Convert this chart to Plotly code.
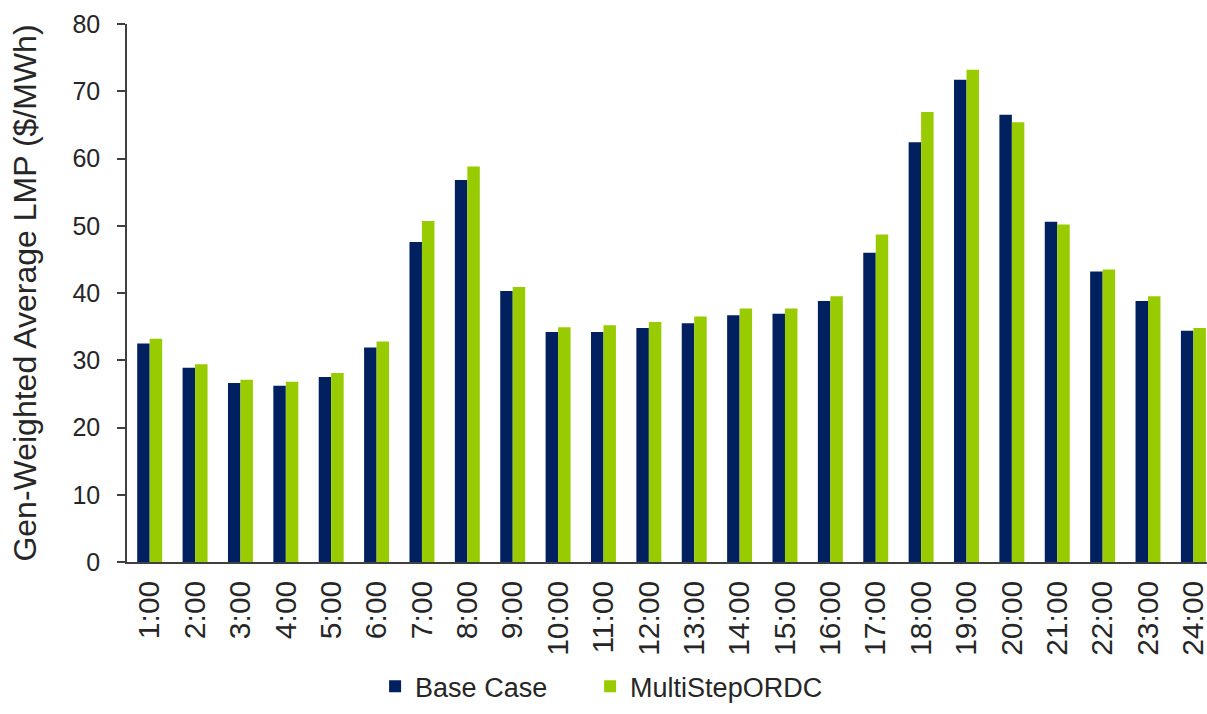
import plotly.graph_objects as go

hours = ["1:00", "2:00", "3:00", "4:00", "5:00", "6:00", "7:00", "8:00", "9:00", "10:00",
         "11:00", "12:00", "13:00", "14:00", "15:00", "16:00", "17:00", "18:00", "19:00",
         "20:00", "21:00", "22:00", "23:00", "24:00"]
base_case = [32.5, 28.9, 26.6, 26.2, 27.5, 31.9, 47.6, 56.8, 40.3, 34.2,
             34.2, 34.8, 35.5, 36.7, 36.9, 38.8, 46.0, 62.4, 71.7,
             66.5, 50.6, 43.2, 38.8, 34.4]
multistep_ordc = [33.2, 29.4, 27.1, 26.8, 28.1, 32.8, 50.7, 58.8, 40.9, 34.9,
                  35.2, 35.7, 36.5, 37.7, 37.7, 39.5, 48.7, 66.9, 73.2,
                  65.4, 50.2, 43.5, 39.5, 34.8]
y_ticks = [0, 10, 20, 30, 40, 50, 60, 70, 80]

NAVY = "#002060"
GREEN = "#99CC00"
TXT = "#262626"
FONT = "Liberation Sans, Arial, sans-serif"

fig = go.Figure()
fig.add_trace(go.Bar(x=hours, y=base_case, name="Base Case", legendwidth=170,
                     marker=dict(color=NAVY, line=dict(width=0))))
fig.add_trace(go.Bar(x=hours, y=multistep_ordc, name="MultiStepORDC", legendwidth=205,
                     marker=dict(color=GREEN, line=dict(width=0))))

fig.update_layout(
    width=1207, height=714,
    margin=dict(l=127, r=0, t=24, b=152, autoexpand=False),
    paper_bgcolor="white", plot_bgcolor="white",
    barmode="group", bargap=0.45, bargroupgap=0,
    font=dict(family=FONT, color=TXT),
    showlegend=True,
    legend=dict(orientation="h", x=0.445, xanchor="center", y=-0.232, yanchor="middle",
                font=dict(size=27, color=TXT), bgcolor="rgba(0,0,0,0)"),
    xaxis=dict(type="category", range=[-0.5, 23.3], tickangle=-90,
               tickfont=dict(size=30, color=TXT), showgrid=False,
               showline=True, linecolor="#404040", linewidth=1.5,
               ticks="", ticklabelstandoff=5, zeroline=False),
    yaxis=dict(range=[0, 80], tickvals=y_ticks, tickfont=dict(size=25, color=TXT),
               showgrid=False, showline=True, linecolor="#404040", linewidth=1.5,
               ticks="outside", ticklen=8, tickcolor="#404040", tickwidth=1.5,
               ticklabelstandoff=12, zeroline=False,
               title=dict(text="Gen-Weighted Average LMP ($/MWh)",
                          font=dict(size=32, color=TXT), standoff=26)),
)

fig.write_html("out.html", config={"displayModeBar": False},
               post_script="document.body.style.margin='0';document.body.style.overflow='hidden';")
